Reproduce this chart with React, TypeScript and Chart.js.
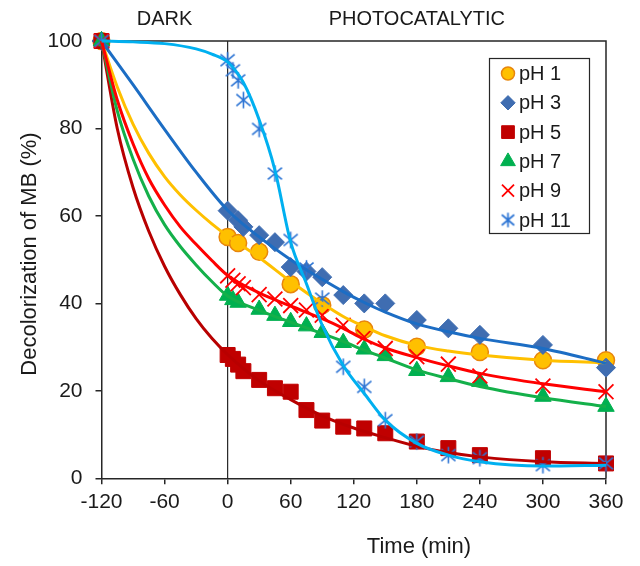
import React, { useEffect, useRef } from 'react';
import { Chart, registerables } from 'chart.js';

Chart.register(...registerables);

// ---------- data ----------
const seriesNames = ['pH 1', 'pH 3', 'pH 5', 'pH 7', 'pH 9', 'pH 11'];
const xTicks = [-120, -60, 0, 60, 120, 180, 240, 300, 360];
const yTicks = [0, 20, 40, 60, 80, 100];

// measured points (time in min, decolorization %)
const tPH1 = [-120, 0, 10, 30, 60, 90, 130, 180, 240, 300, 360];
const yPH1 = [100, 55.2, 53.8, 51.8, 44.4, 39.6, 34, 30.1, 28.9, 27, 27];

const tPH3 = [-120, 0, 10, 15, 30, 45, 60, 75, 90, 110, 130, 150, 180, 210, 240, 300, 360];
const yPH3 = [100, 61.2, 59, 57.5, 55.6, 54, 48.3, 47.3, 46, 41.9, 40, 40, 36.2, 34.3, 32.8, 30.5, 25.3];

const tPH5 = [-120, 0, 5, 10, 15, 30, 45, 60, 75, 90, 110, 130, 150, 180, 210, 240, 300, 360];
const yPH5 = [100, 28.2, 27.3, 26, 24.5, 22.5, 20.6, 19.8, 15.6, 13.2, 11.8, 11.4, 10.3, 8.4, 6.9, 5.3, 4.6, 3.4];

const tPH7 = [-120, 0, 5, 10, 30, 45, 60, 75, 90, 110, 130, 150, 180, 210, 240, 300, 360];
const yPH7 = [100, 41.8, 40.8, 40.2, 38.6, 37.2, 35.8, 34.8, 33.3, 31, 29.5, 28, 24.6, 23.2, 22.1, 18.7, 16.4];

const tPH9 = [-120, 0, 5, 10, 15, 30, 45, 60, 75, 90, 110, 130, 150, 180, 210, 240, 300, 360];
const yPH9 = [100, 46.3, 45.3, 44.5, 43.6, 42, 41, 39.5, 38.5, 37.3, 35, 32.3, 29.7, 27.8, 26.1, 23.4, 21.1, 19.8];

const tPH11 = [-120, 0, 5, 10, 15, 30, 45, 60, 75, 90, 110, 130, 150, 180, 210, 240, 300, 360];
const yPH11 = [100, 95.6, 93.3, 91, 86.5, 79.9, 69.7, 54.5, 48, 41.1, 25.5, 20.9, 13.3, 8.4, 5.3, 4.6, 3.0, 3.4];

// fitted curves
const fitT1 = [-120, -105, -90, -75, -60, -45, -30, -15, 0, 30, 60, 90, 110, 130, 150, 180, 210, 240, 300, 360];
const fitY1 = [100, 89.5, 81, 74.3, 69, 64.8, 61.3, 58.2, 55.4, 50.5, 45, 40, 37, 34.7, 32.6, 30.4, 29.1, 28.2, 27, 26.4];

const fitT3 = [-120, -90, -60, -30, 0, 30, 60, 90, 110, 130, 150, 180, 210, 240, 300, 360];
const fitY3 = [100, 90, 79.8, 70, 61.3, 55.2, 50, 45.5, 42.7, 40.2, 38, 35.3, 33.5, 32, 29.7, 26.3];

const fitT5 = [-120, -105, -90, -75, -60, -45, -30, -15, 0, 30, 60, 90, 120, 150, 180, 210, 240, 300, 360];
const fitY5 = [100, 80, 66.5, 56.5, 48.5, 42, 36.5, 32, 28.3, 22.3, 18, 14.3, 11.5, 9.3, 7.3, 5.9, 4.9, 3.8, 3.4];

const fitT7 = [-120, -105, -90, -75, -60, -45, -30, -15, 0, 30, 60, 90, 110, 130, 150, 180, 210, 240, 300, 360];
const fitY7 = [100, 84, 73, 64.5, 58, 53, 48.8, 45, 41.7, 38.4, 35.7, 33.1, 31.3, 29.3, 27.5, 24.8, 22.8, 21, 18.4, 16.4];

const fitT9 = [-120, -105, -90, -75, -60, -45, -30, -15, 0, 30, 60, 90, 110, 130, 150, 180, 210, 240, 300, 360];
const fitY9 = [100, 86.5, 76.5, 68.5, 62.5, 57.5, 53.5, 49.8, 46.4, 42.4, 39.4, 36.5, 34.3, 31.8, 29.8, 27.6, 25.7, 24, 21.6, 19.8];

const fitT11 = [-120, -90, -60, -30, -15, 0, 15, 30, 45, 60, 75, 90, 110, 130, 150, 180, 210, 240, 300, 360];
const fitY11 = [100, 99.8, 99.4, 98.2, 97, 95.2, 90.5, 82, 70.5, 54, 44.5, 35, 25.8, 19.4, 13.3, 8, 5.3, 3.8, 2.8, 3.0];

// ---------- styles ----------
const FONT = '"Liberation Sans", Arial, Helvetica, sans-serif';
const TEXT = '#1a1a1a';
const AXIS = '#262626';

function makeAsterisk(color: string, size: number, lw: number) {
  const c = document.createElement('canvas');
  c.width = size;
  c.height = size;
  const g = c.getContext('2d')!;
  const m = size / 2;
  const a = size / 2 - 1.2;
  g.strokeStyle = color;
  g.lineWidth = lw;
  g.lineCap = 'butt';
  g.beginPath();
  g.moveTo(m, m - a);
  g.lineTo(m, m + a);
  g.moveTo(m - a * 0.85, m - a * 0.72);
  g.lineTo(m + a * 0.85, m + a * 0.72);
  g.moveTo(m + a * 0.85, m - a * 0.72);
  g.lineTo(m - a * 0.85, m + a * 0.72);
  g.stroke();
  return c;
}

type MarkerDef = {
  style: any;
  radius: number;
  fill: string;
  stroke: string;
  lw: number;
  line: string;
};

function drawMarker(ctx: CanvasRenderingContext2D, m: MarkerDef, style: any, x: number, y: number, r: number) {
  ctx.save();
  ctx.fillStyle = m.fill;
  ctx.strokeStyle = m.stroke;
  ctx.lineWidth = m.lw;
  ctx.beginPath();
  if (style === 'circle') {
    ctx.arc(x, y, r, 0, Math.PI * 2);
    ctx.fill();
    ctx.stroke();
  } else if (style === 'rectRot') {
    ctx.moveTo(x - r, y);
    ctx.lineTo(x, y - r);
    ctx.lineTo(x + r, y);
    ctx.lineTo(x, y + r);
    ctx.closePath();
    ctx.fill();
    ctx.stroke();
  } else if (style === 'rect') {
    const s = r * Math.SQRT1_2;
    ctx.rect(x - s, y - s, 2 * s, 2 * s);
    ctx.fill();
    ctx.stroke();
  } else if (style === 'triangle') {
    ctx.moveTo(x, y - r);
    ctx.lineTo(x + r * Math.sin((2 * Math.PI) / 3), y - r * Math.cos((2 * Math.PI) / 3));
    ctx.lineTo(x + r * Math.sin((4 * Math.PI) / 3), y - r * Math.cos((4 * Math.PI) / 3));
    ctx.closePath();
    ctx.fill();
    ctx.stroke();
  } else if (style === 'crossRot') {
    const o = r * Math.SQRT1_2;
    ctx.moveTo(x - o, y - o);
    ctx.lineTo(x + o, y + o);
    ctx.moveTo(x + o, y - o);
    ctx.lineTo(x - o, y + o);
    ctx.stroke();
  } else if (style instanceof HTMLCanvasElement) {
    ctx.drawImage(style, x - style.width / 2, y - style.height / 2);
  }
  ctx.restore();
}

export default function App() {
  const ref = useRef<HTMLCanvasElement>(null);

  useEffect(() => {
    if (!ref.current) return;
    const star = makeAsterisk('#2C74D4', 19, 1.6);
    const starLegend = makeAsterisk('#2C74D4', 17, 1.7);

    const markers: MarkerDef[] = [
      { style: 'circle', radius: 8.5, fill: '#FFC000', stroke: '#E8860C', lw: 1.5, line: '#FFC000' },
      { style: 'rectRot', radius: 9.5, fill: '#3F6DB1', stroke: '#3F6DB1', lw: 1, line: '#1C6DC4' },
      { style: 'rect', radius: 10.6, fill: '#C00000', stroke: '#C00000', lw: 1, line: '#B80000' },
      { style: 'triangle', radius: 9.5, fill: '#00B050', stroke: '#00B050', lw: 1, line: '#14B04A' },
      { style: 'crossRot', radius: 10.5, fill: '#FF0000', stroke: '#FF0000', lw: 1.8, line: '#FF0000' },
      { style: star, radius: 9, fill: '#2C74D4', stroke: '#2C74D4', lw: 1.6, line: '#00B0F0' },
    ];
    const legendStyles = ['circle', 'rectRot', 'rect', 'triangle', 'crossRot', starLegend];
    const legendRadius = [6.5, 7.2, 9, 8.5, 8.5, 8];

    const ts = [tPH1, tPH3, tPH5, tPH7, tPH9, tPH11];
    const ys = [yPH1, yPH3, yPH5, yPH7, yPH9, yPH11];
    const fts = [fitT1, fitT3, fitT5, fitT7, fitT9, fitT11];
    const fys = [fitY1, fitY3, fitY5, fitY7, fitY9, fitY11];

    const datasets: any[] = [];
    markers.forEach((m, i) => {
      datasets.push({
        label: seriesNames[i],
        data: ts[i].map((t, k) => ({ x: t, y: ys[i][k] })),
        showLine: false,
        pointStyle: m.style,
        pointRadius: m.radius,
        pointBackgroundColor: m.fill,
        pointBorderColor: m.stroke,
        pointBorderWidth: m.lw,
        order: 20 - i,
        clip: false,
      });
    });
    markers.forEach((m, i) => {
      datasets.push({
        label: seriesNames[i] + ' fit',
        data: fts[i].map((t, k) => ({ x: t, y: fys[i][k] })),
        showLine: true,
        borderColor: m.line,
        borderWidth: 3,
        pointRadius: 0,
        cubicInterpolationMode: 'monotone',
        order: 10 - i,
        clip: false,
      });
    });

    const decor = {
      id: 'decor',
      beforeDatasetsDraw(chart: any) {
        const { ctx, chartArea: a, scales } = chart;
        ctx.save();
        ctx.strokeStyle = AXIS;
        ctx.lineWidth = 1.5;
        ctx.beginPath();
        ctx.moveTo(a.left, a.top);
        ctx.lineTo(a.right, a.top);
        ctx.lineTo(a.right, a.bottom);
        ctx.stroke();
        const x0 = scales.x.getPixelForValue(0);
        ctx.lineWidth = 1.2;
        ctx.beginPath();
        ctx.moveTo(x0, a.top);
        ctx.lineTo(x0, a.bottom);
        ctx.stroke();
        ctx.restore();
      },
      afterDraw(chart: any) {
        const { ctx, scales } = chart;
        ctx.save();
        // region labels
        ctx.fillStyle = TEXT;
        ctx.font = `20px ${FONT}`;
        ctx.textAlign = 'center';
        ctx.textBaseline = 'middle';
        ctx.fillText('DARK', scales.x.getPixelForValue(-60), 19);
        ctx.fillText('PHOTOCATALYTIC', scales.x.getPixelForValue(180), 19);
        // axis titles
        ctx.font = `22px ${FONT}`;
        ctx.fillText('Time (min)', 419, 547);
        ctx.save();
        ctx.translate(30, 254);
        ctx.rotate(-Math.PI / 2);
        ctx.fillText('Decolorization of MB (%)', 0, 0);
        ctx.restore();
        // legend
        const bx = 489.5, by = 58.5, bw = 100, bh = 175;
        ctx.fillStyle = '#ffffff';
        ctx.fillRect(bx, by, bw, bh);
        ctx.strokeStyle = AXIS;
        ctx.lineWidth = 1.2;
        ctx.strokeRect(bx, by, bw, bh);
        markers.forEach((m, i) => {
          const y = 73.5 + i * 29.3;
          drawMarker(ctx, m, legendStyles[i], 508, y, legendRadius[i]);
          ctx.fillStyle = TEXT;
          ctx.font = `20px ${FONT}`;
          ctx.textAlign = 'left';
          ctx.textBaseline = 'middle';
          ctx.fillText(seriesNames[i], 519, y + 1);
        });
        ctx.restore();
      },
    };

    const chart = new Chart(ref.current, {
      type: 'scatter',
      data: { datasets },
      options: {
        animation: false,
        responsive: false,
        maintainAspectRatio: false,
        devicePixelRatio: 1,
        layout: { padding: { top: 41, right: 34, left: 0, bottom: 0 } },
        plugins: {
          legend: { display: false },
          tooltip: { enabled: false },
          title: { display: false },
        },
        scales: {
          x: {
            type: 'linear',
            min: -120,
            max: 360,
            afterFit(s: any) {
              s.height = 566 - 478.3;
            },
            afterBuildTicks(s: any) {
              s.ticks = xTicks.map((v) => ({ value: v }));
            },
            ticks: {
              font: { family: FONT, size: 21 },
              color: TEXT,
              padding: 5,
              maxRotation: 0,
              autoSkip: false,
            },
            grid: {
              drawOnChartArea: false,
              drawTicks: true,
              tickLength: 6,
              color: AXIS,
              lineWidth: 1.5,
            },
            border: { display: true, color: AXIS, width: 1.5 },
          },
          y: {
            type: 'linear',
            min: 0,
            max: 100,
            afterFit(s: any) {
              s.width = 101.5;
            },
            afterBuildTicks(s: any) {
              s.ticks = yTicks.map((v) => ({ value: v }));
            },
            ticks: {
              font: { family: FONT, size: 21 },
              color: TEXT,
              padding: 13,
              autoSkip: false,
            },
            grid: {
              drawOnChartArea: false,
              drawTicks: true,
              tickLength: 6,
              color: AXIS,
              lineWidth: 1.5,
            },
            border: { display: true, color: AXIS, width: 1.5 },
          },
        },
      },
      plugins: [decor],
    } as any);

    return () => chart.destroy();
  }, []);

  return (
    <div style={{ position: 'absolute', left: 0, top: 0, width: 640, height: 566, background: '#fff' }}>
      <canvas ref={ref} width={640} height={566} style={{ width: 640, height: 566, display: 'block' }} />
    </div>
  );
}
